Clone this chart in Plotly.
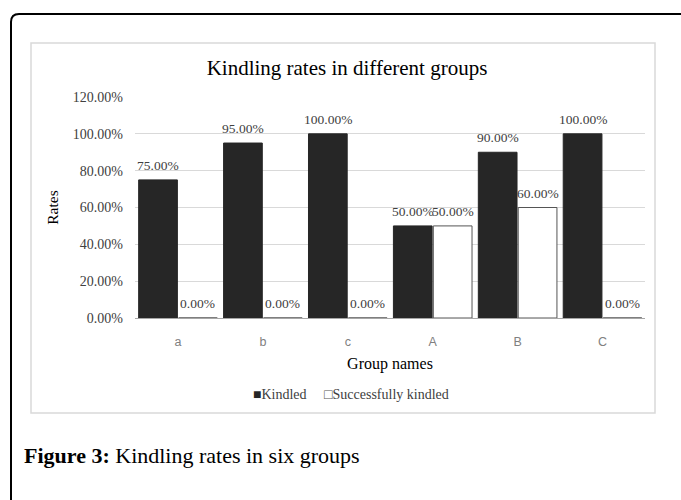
import plotly.graph_objects as go

# Data
groups = ["a", "b", "c", "A", "B", "C"]
kindled = [0.75, 0.95, 1.00, 0.50, 0.90, 1.00]
successfully_kindled = [0.00, 0.00, 0.00, 0.50, 0.60, 0.00]
y_ticks = [0, 0.2, 0.4, 0.6, 0.8, 1.0, 1.2]
series_names = ["Kindled", "Successfully kindled"]

W, H = 681, 500
PL, PR, PT, PB = 135, 645, 97, 318  # plot area in pixels
BARGAP = 0.06


def px(x):
    return (x - PL) / (PR - PL)


def py(y):
    return (PB - y) / (PB - PT)


serif = "Liberation Serif"
label_font = dict(family=serif, size=13.5, color="#404040")

fig = go.Figure()
fig.add_trace(go.Bar(
    x=groups, y=kindled, name=series_names[0], showlegend=False,
    marker=dict(color="#262626", line=dict(color="#262626", width=1)),
))
fig.add_trace(go.Bar(
    x=groups, y=successfully_kindled, name=series_names[1], showlegend=False,
    marker=dict(color="#ffffff", line=dict(color="#555555", width=1)),
))

# value labels sit a little above each bar, centred on its half of the group
cat_px = (PR - PL) / len(groups)
half_offset = cat_px * (1 - BARGAP) / 4
annotations = []
for values, shift in ((kindled, -half_offset), (successfully_kindled, half_offset)):
    for g, v in zip(groups, values):
        annotations.append(dict(
            x=g, y=v, xref="x", yref="y", text=f"{v:.2%}", showarrow=False,
            xshift=shift, yshift=5, xanchor="center", yanchor="bottom",
            font=label_font,
        ))

shapes = [
    # chart box
    dict(type="rect", xref="paper", yref="paper",
         x0=px(31), x1=px(655), y0=py(413), y1=py(43),
         line=dict(color="#d9d9d9", width=1.5), fillcolor="rgba(0,0,0,0)", layer="below"),
    # outer frame with rounded corner
    dict(type="path", xref="paper", yref="paper",
         path=(f"M {px(11)},{py(500)} L {px(11)},{py(22)} "
               f"Q {px(11)},{py(14)} {px(19)},{py(14)} L {px(681)},{py(14)}"),
         line=dict(color="#000000", width=2)),
]

legend_text = (f"<span style='color:#262626'>■</span>{series_names[0]}"
               f"&nbsp;&nbsp;&nbsp;&nbsp;&nbsp;<span style='color:#555555'>□</span>{series_names[1]}")

annotations += [
    dict(text=legend_text, xref="paper", yref="paper",
         x=px(351), y=py(394), xanchor="center", yanchor="middle", showarrow=False,
         font=dict(family=serif, size=14, color="#404040")),
    dict(text="<b>Figure 3:</b> Kindling rates in six groups", xref="paper", yref="paper",
         x=px(22), y=py(455), xanchor="left", yanchor="middle", showarrow=False,
         font=dict(family=serif, size=22, color="#000000")),
]

fig.update_layout(
    width=W, height=H,
    margin=dict(l=PL, r=W - PR, t=PT, b=H - PB, pad=0),
    paper_bgcolor="white", plot_bgcolor="white",
    barmode="group", bargap=BARGAP, bargroupgap=0.03,
    showlegend=False,
    title=dict(text="Kindling rates in different groups", x=px(347), xref="paper",
               xanchor="center", y=1 - 68 / H, yanchor="middle",
               font=dict(family=serif, size=21, color="#000000")),
    xaxis=dict(
        showgrid=False, showline=True, linecolor="#a6a6a6", linewidth=1,
        ticks="", tickfont=dict(family="Liberation Sans", size=12.5, color="#808080"),
        ticklabelstandoff=12,
        title=dict(text="Group names", font=dict(family=serif, size=16, color="#000000"),
                   standoff=9),
    ),
    yaxis=dict(
        range=[0, 1.2], tickvals=y_ticks, tickformat=".2%",
        showgrid=True, gridcolor="#d9d9d9", gridwidth=1, zeroline=False,
        showline=False, ticks="",
        tickfont=dict(family=serif, size=14, color="#404040"),
        ticklabelstandoff=11,
        title=dict(text="Rates", font=dict(family=serif, size=15.5, color="#000000"),
                   standoff=10),
    ),
    shapes=shapes,
    annotations=annotations,
)

fig.write_html("out.html")
